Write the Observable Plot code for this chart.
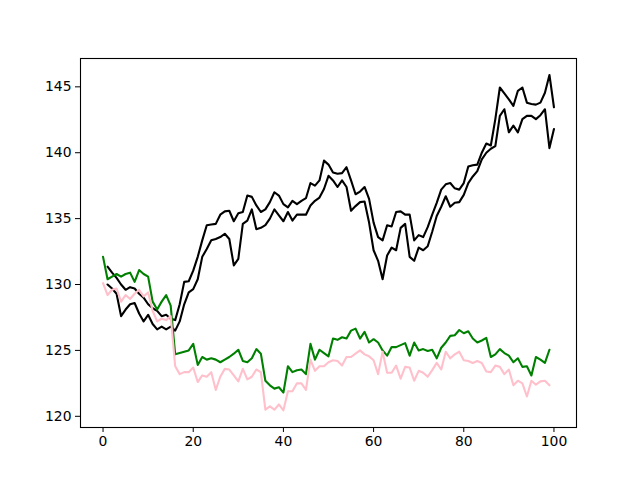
<!DOCTYPE html>
<html>
<head>
<meta charset="utf-8">
<script src="https://cdn.jsdelivr.net/npm/d3@7"></script>
<script src="https://cdn.jsdelivr.net/npm/@observablehq/plot@0.6"></script>
<style>
  body { margin: 0; background: white; }
</style>
</head>
<body>
<div id="chart"></div>
<script>
// green and pink start at x = 0, the two black lines start at x = 1
const greenValues = [
  132.1, 130.4, 130.6, 130.8, 130.6, 130.8, 130.9, 130.2, 131.1, 130.8,
  130.6, 128.7, 128.1, 128.7, 129.2, 128.4, 124.7, 124.8, 124.9, 125.0,
  125.5, 123.9, 124.5, 124.3, 124.4, 124.3, 124.1, 124.3, 124.5, 124.75,
  125.05, 124.2, 124.1, 124.4, 125.1, 124.75, 122.7, 122.35, 122.1, 122.2,
  121.8, 123.8, 123.35, 123.5, 123.55, 123.2, 125.5, 124.3, 125.05, 124.8,
  124.55, 125.9, 125.8, 126.0, 125.9, 126.5, 126.65, 125.9, 126.4, 125.6,
  125.85, 125.6, 125.0, 124.6, 125.25, 125.25, 125.4, 125.55, 124.6, 125.6,
  125.0, 125.1, 124.95, 125.05, 124.4, 125.2, 125.6, 126.1, 126.15, 126.55,
  126.3, 126.45, 125.9, 125.6, 125.75, 125.95, 124.5, 124.7, 125.1, 124.8,
  124.6, 124.1, 124.4, 123.75, 123.8, 123.1, 124.5, 124.3, 124.05, 125.05
]
const pinkValues = [
  130.1, 129.2, 129.6, 129.7, 128.7, 129.2, 128.9, 129.3, 129.6, 129.1,
  129.4, 128.0, 127.2, 127.4, 127.3, 127.6, 123.8, 123.2, 123.35, 123.35,
  123.7, 122.6, 123.1, 123.0, 123.35, 122.0, 123.0, 123.6, 123.55, 123.1,
  122.65, 123.6, 122.8, 123.0, 123.55, 123.35, 120.5, 120.75, 120.5, 120.9,
  120.45, 121.9, 121.9, 122.5, 122.5, 122.0, 124.3, 123.45, 123.8, 123.8,
  124.1, 124.25, 124.2, 123.85, 124.5, 124.5, 124.75, 125.0, 124.7, 124.55,
  124.25, 123.2, 124.9, 123.3, 123.3, 123.85, 122.85, 123.75, 123.7, 122.7,
  123.45, 123.3, 123.0, 123.5, 124.05, 123.55, 124.9, 124.4, 124.7, 124.9,
  124.25, 124.2, 124.05, 124.2, 124.05, 123.4, 123.35, 123.85, 123.75, 123.2,
  123.55, 122.35, 122.7, 122.5, 121.5, 122.7, 122.4, 122.65, 122.7, 122.35
]
const upperValues = [
  131.35, 130.9, 130.5, 130.0, 129.6, 129.8, 129.7, 129.3, 129.0, 128.5,
  128.2, 128.0, 127.6, 127.7, 127.4, 127.3, 128.5, 130.2, 130.25, 131.05,
  132.1, 133.35, 134.5, 134.55, 134.6, 135.3, 135.55, 135.6, 134.8, 135.4,
  135.5, 136.75, 136.65, 136.0, 135.5, 135.7, 136.25, 137.0, 136.75, 136.1,
  135.85, 136.35, 136.1, 136.35, 136.55, 137.7, 137.5, 137.9, 139.4, 139.1,
  138.5, 138.4, 138.45, 138.9, 137.9, 136.85, 137.05, 137.4, 136.5, 134.7,
  133.6, 133.35, 134.5, 134.4, 135.5, 135.55, 135.3, 135.3, 133.35, 133.75,
  133.6, 134.35, 135.3, 136.2, 137.2, 137.6, 137.7, 137.3, 137.2, 137.7,
  138.95, 139.05, 139.1, 140.0, 140.7, 140.55, 142.55, 144.95, 144.5, 144.05,
  143.55, 144.7, 144.95, 143.8, 143.7, 143.65, 143.8, 144.55, 145.9, 143.45
]
const lowerValues = [
  130.0, 129.7, 129.3, 127.6, 128.1, 128.5, 128.6, 127.8, 127.2, 127.7,
  127.0, 126.6, 126.8, 126.6, 126.8, 126.5, 127.2, 128.5, 129.4, 129.65,
  130.4, 132.1, 132.7, 133.35, 133.45, 133.6, 133.85, 133.45, 131.45, 131.95,
  134.6, 134.85, 135.7, 134.2, 134.3, 134.5, 135.0, 135.7, 135.25, 134.8,
  135.5, 134.85, 135.3, 135.3, 135.3, 136.0, 136.35, 136.6, 137.25, 138.25,
  137.9, 137.4, 137.9, 137.4, 135.6, 135.95, 136.25, 136.3, 134.7, 132.6,
  131.8, 130.4, 132.2, 132.8, 132.6, 134.3, 134.6, 132.1, 131.8, 132.8,
  132.6, 132.9, 134.0, 135.2, 135.9, 136.7, 135.9, 136.2, 136.25, 136.8,
  137.7, 138.2, 138.6, 139.5, 140.0, 140.3, 140.5, 142.8, 143.3, 141.55,
  142.05, 141.55, 142.55, 142.8, 142.8, 142.55, 142.85, 143.3, 140.35, 141.8
]
const xTicks = [0, 20, 40, 60, 80, 100]
const yTicks = [120, 125, 130, 135, 140, 145]

const green = greenValues.map((v, i) => ({x: i, y: v}))
const pink = pinkValues.map((v, i) => ({x: i, y: v}))
const upper = upperValues.map((v, i) => ({x: i + 1, y: v}))
const lower = lowerValues.map((v, i) => ({x: i + 1, y: v}))

let chart = Plot.plot({
  width: 640,
  height: 480,
  marginLeft: 80,
  marginRight: 64,
  marginTop: 58,
  marginBottom: 53,
  style: {fontFamily: 'DejaVu Sans', fontSize: '13.9px', background: 'white', color: 'black'},
  x: {domain: [-5, 105], ticks: xTicks, tickSize: 5, tickPadding: 4, label: null},
  y: {domain: [119.15, 147.15], ticks: yTicks, tickSize: 5, tickPadding: 4, label: null},
  marks: [
    Plot.line(upper, {x: 'x', y: 'y', stroke: 'black', strokeWidth: 2.1}),
    Plot.line(lower, {x: 'x', y: 'y', stroke: 'black', strokeWidth: 2.1}),
    Plot.line(green, {x: 'x', y: 'y', stroke: 'green', strokeWidth: 2.1}),
    Plot.line(pink, {x: 'x', y: 'y', stroke: 'pink', strokeWidth: 2.1}),
    Plot.frame({stroke: 'black', strokeWidth: 1.1}),
  ],
})

d3.select('#chart').append(() => chart)
</script>
</body>
</html>
